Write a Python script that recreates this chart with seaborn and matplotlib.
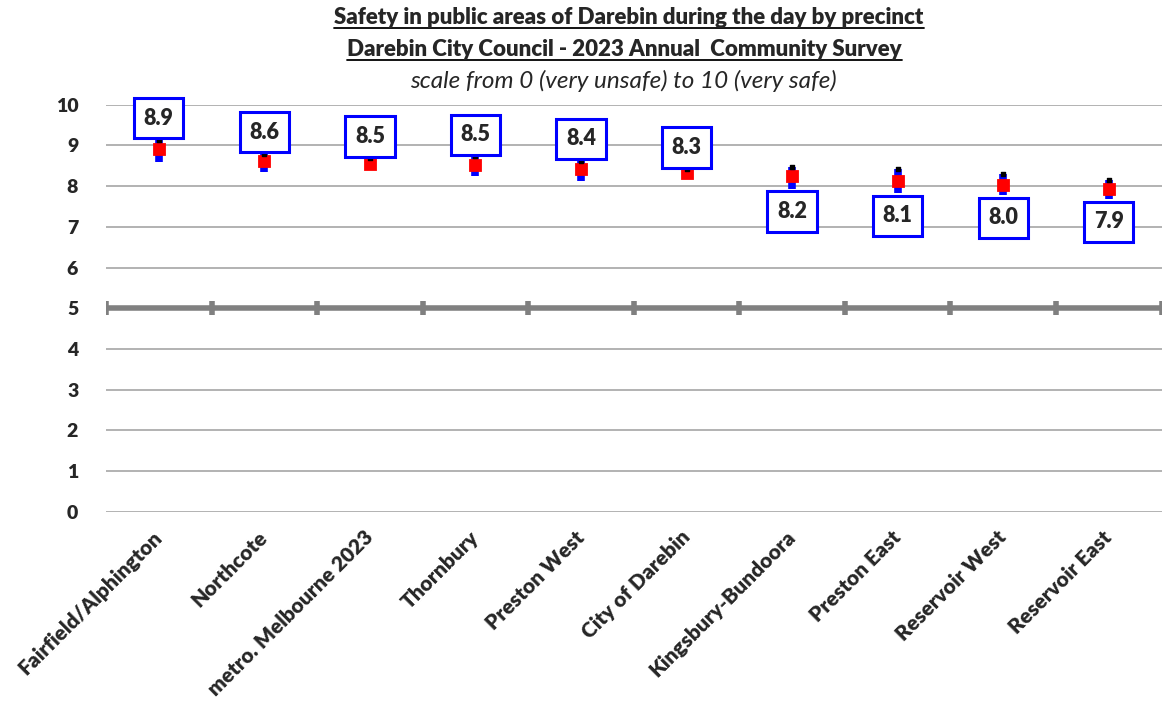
import pandas as pd
import matplotlib
matplotlib.use('Agg')
import matplotlib.pyplot as plt
from matplotlib.lines import Line2D
import seaborn as sns

# data
precincts = ['Fairfield/Alphington', 'Northcote', 'metro. Melbourne 2023', 'Thornbury',
             'Preston West', 'City of Darebin', 'Kingsbury-Bundoora', 'Preston East',
             'Reservoir West', 'Reservoir East']
means = [8.91, 8.62, 8.54, 8.53, 8.43, 8.32, 8.24, 8.13, 8.04, 7.94]
lower = [8.60, 8.36, 8.42, 8.24, 8.13, 8.18, 7.94, 7.84, 7.79, 7.69]
upper = [9.14, 8.80, 8.69, 8.73, 8.63, 8.42, 8.48, 8.43, 8.30, 8.16]
y_ticks = list(range(0, 11))
midpoint = 5

TITLE_1 = 'Safety in public areas of Darebin during the day by precinct'
TITLE_2 = 'Darebin City Council - 2023 Annual  Community Survey'
SUBTITLE = 'scale from 0 (very unsafe) to 10 (very safe)'

sns.set_style('white')
plt.rcParams['font.family'] = ['Lato', 'DejaVu Sans']

df = pd.DataFrame({'precinct': precincts, 'mean': means, 'lower': lower, 'upper': upper})

fig = plt.figure(figsize=(11.65, 7.08), dpi=100)
ax = fig.add_axes([0.091, 0.277, 0.906, 0.575])

# grid lines
for y in y_ticks:
    if y != midpoint:
        ax.axhline(y, color='#a6a6a6', lw=1.2, zorder=0)

# confidence interval bars
ax.vlines(df.index, df['lower'], df['upper'], color='#0000ff', lw=5.5, zorder=2)
sns.pointplot(data=df, x='precinct', y='mean', linestyle='none', marker='s',
              color='#ff0000', markersize=7, errorbar=None, ax=ax, zorder=3)
ax.scatter(df.index, df['upper'], marker='s', s=7, color='black', zorder=4)

# midpoint axis line with tick marks between categories
n = len(df)
ax.axhline(midpoint, color='#808080', lw=4, zorder=1)
ax.vlines([i - 0.5 for i in range(n + 1)], midpoint - 0.17, midpoint + 0.17,
          color='#808080', lw=4, zorder=1)

# value labels: above the bar for the higher precincts, below for the rest
ref = df.loc[df['precinct'] == 'City of Darebin', 'mean'].iloc[0]
box = dict(boxstyle='square,pad=0.45', fc='white', ec='#0000ff', lw=2.2)
for i, row in df.iterrows():
    if row['mean'] >= ref:
        ax.annotate(f"{row['mean']:.1f}", (i, row['upper']), xytext=(0, 8),
                    textcoords='offset points', ha='center', va='bottom',
                    fontsize=15.5, fontweight='heavy', bbox=box, zorder=5)
    else:
        ax.annotate(f"{row['mean']:.1f}", (i, row['lower']), xytext=(0, -9),
                    textcoords='offset points', ha='center', va='top',
                    fontsize=15.5, fontweight='heavy', bbox=box, zorder=5)

ax.set_xlim(-0.5, n - 0.5)
ax.set_ylim(0, 10)
ax.set_yticks(y_ticks)
ax.set_yticklabels([str(t) for t in y_ticks], fontsize=14, fontweight='heavy')
ax.tick_params(axis='y', length=0, pad=20)
ax.tick_params(axis='x', length=0, pad=16)
ax.set_xticks(range(n))
ax.set_xticklabels(precincts, rotation=45, ha='right', va='center',
                   rotation_mode='anchor', fontsize=15, fontweight='heavy')
ax.set_xlabel('')
ax.set_ylabel('')
for s in ax.spines.values():
    s.set_visible(False)

# titles (underlined)
t1 = fig.text(0.54, 1 - 18 / 708, TITLE_1, ha='center', va='center',
              fontsize=16, fontweight='heavy')
t2 = fig.text(0.536, 1 - 50 / 708, TITLE_2, ha='center', va='center',
              fontsize=16, fontweight='heavy')
fig.text(0.535, 1 - 81 / 708, SUBTITLE, ha='center', va='center',
         fontsize=17.5, style='italic')

fig.canvas.draw()
r = fig.canvas.get_renderer()
for t in (t1, t2):
    bb = t.get_window_extent(r).transformed(fig.transFigure.inverted())
    yy = bb.y0 + 0.001
    fig.add_artist(Line2D([bb.x0, bb.x1], [yy, yy], color='black', lw=1.3,
                          transform=fig.transFigure))

fig.savefig('out.png', dpi=100)
